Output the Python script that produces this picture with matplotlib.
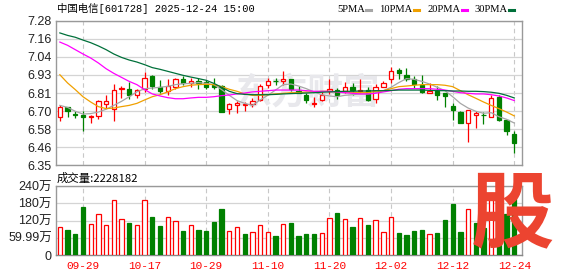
import numpy as np
import matplotlib
matplotlib.use('Agg')
import matplotlib.pyplot as plt
from matplotlib.lines import Line2D

# daily candles 2025-09-24 .. 2025-12-24 (60 sessions)
opens = [6.662, 6.722, 6.679, 6.675, 6.658, 6.667, 6.743, 6.714, 6.839, 6.843,
         6.800, 6.843, 6.923, 6.854, 6.830, 6.856, 6.903, 6.877, 6.895, 6.886,
         6.869, 6.860, 6.710, 6.735, 6.735, 6.744, 6.770, 6.865, 6.895, 6.895,
         6.903, 6.830, 6.804, 6.744, 6.770, 6.830, 6.834, 6.826, 6.852, 6.830,
         6.834, 6.774, 6.856, 6.908, 6.964, 6.929, 6.903, 6.869, 6.817, 6.826,
         6.813, 6.731, 6.692, 6.623, 6.675, 6.675, 6.662, 6.791, 6.641, 6.550]
closes = [6.722, 6.697, 6.671, 6.662, 6.667, 6.761, 6.761, 6.834, 6.847, 6.800,
          6.834, 6.912, 6.858, 6.826, 6.858, 6.903, 6.877, 6.895, 6.882, 6.856,
          6.852, 6.692, 6.744, 6.748, 6.744, 6.761, 6.860, 6.895, 6.890, 6.903,
          6.843, 6.817, 6.770, 6.748, 6.800, 6.839, 6.800, 6.852, 6.834, 6.834,
          6.770, 6.856, 6.882, 6.959, 6.946, 6.903, 6.873, 6.822, 6.826, 6.804,
          6.796, 6.705, 6.623, 6.705, 6.684, 6.671, 6.783, 6.641, 6.567, 6.494]
highs = [6.735, 6.722, 6.697, 6.701, 6.675, 6.770, 6.804, 6.873, 6.860, 6.886,
         6.843, 6.951, 6.930, 6.899, 6.903, 6.912, 6.925, 6.912, 6.912, 6.899,
         6.912, 6.869, 6.748, 6.765, 6.757, 6.783, 6.873, 6.912, 6.912, 6.955,
         6.903, 6.858, 6.813, 6.791, 6.822, 6.903, 6.847, 6.886, 6.877, 6.903,
         6.856, 6.873, 6.895, 6.981, 6.976, 6.976, 6.925, 6.929, 6.882, 6.860,
         6.813, 6.748, 6.697, 6.705, 6.701, 6.692, 6.800, 6.804, 6.641, 6.567]
lows = [6.636, 6.658, 6.654, 6.572, 6.619, 6.645, 6.718, 6.636, 6.783, 6.774,
        6.783, 6.822, 6.843, 6.817, 6.804, 6.843, 6.869, 6.852, 6.843, 6.839,
        6.843, 6.692, 6.679, 6.688, 6.697, 6.727, 6.761, 6.847, 6.865, 6.869,
        6.830, 6.813, 6.748, 6.727, 6.761, 6.809, 6.774, 6.813, 6.800, 6.813,
        6.766, 6.753, 6.852, 6.877, 6.908, 6.890, 6.847, 6.813, 6.817, 6.770,
        6.727, 6.641, 6.623, 6.499, 6.589, 6.615, 6.662, 6.636, 6.546, 6.430]

# moving averages as shown on the chart
ma5 = [6.735, 6.722, 6.697, 6.679, 6.682, 6.692, 6.710, 6.735, 6.761, 6.791,
       6.822, 6.843, 6.847, 6.852, 6.858, 6.869, 6.875, 6.877, 6.882, 6.877,
       6.869, 6.837, 6.800, 6.766, 6.748, 6.735, 6.770, 6.800, 6.834, 6.869,
       6.873, 6.860, 6.843, 6.822, 6.804, 6.796, 6.791, 6.800, 6.804, 6.809,
       6.809, 6.817, 6.830, 6.852, 6.882, 6.908, 6.903, 6.890, 6.873, 6.852,
       6.830, 6.791, 6.748, 6.718, 6.697, 6.684, 6.688, 6.662, 6.645, 6.621]
ma10 = [6.933, 6.880, 6.837, 6.791, 6.757, 6.727, 6.714, 6.718, 6.727, 6.735,
        6.748, 6.770, 6.791, 6.804, 6.822, 6.843, 6.856, 6.865, 6.869, 6.871,
        6.869, 6.856, 6.839, 6.826, 6.809, 6.800, 6.800, 6.804, 6.809, 6.813,
        6.817, 6.817, 6.822, 6.822, 6.826, 6.826, 6.822, 6.822, 6.817, 6.817,
        6.817, 6.826, 6.830, 6.843, 6.856, 6.860, 6.865, 6.869, 6.869, 6.869,
        6.865, 6.856, 6.830, 6.804, 6.781, 6.757, 6.735, 6.714, 6.692, 6.667]
ma20 = [7.144, 7.123, 7.095, 7.067, 7.041, 7.009, 6.972, 6.942, 6.916, 6.890,
        6.869, 6.837, 6.809, 6.796, 6.785, 6.778, 6.778, 6.783, 6.787, 6.787,
        6.791, 6.798, 6.802, 6.809, 6.815, 6.822, 6.826, 6.830, 6.834, 6.834,
        6.834, 6.834, 6.830, 6.826, 6.826, 6.826, 6.822, 6.817, 6.813, 6.809,
        6.809, 6.813, 6.822, 6.830, 6.839, 6.843, 6.843, 6.843, 6.843, 6.839,
        6.834, 6.826, 6.817, 6.813, 6.809, 6.809, 6.804, 6.796, 6.783, 6.766]
ma30 = [7.203, 7.187, 7.175, 7.157, 7.140, 7.119, 7.095, 7.067, 7.045, 7.028,
        7.015, 6.998, 6.979, 6.968, 6.955, 6.942, 6.929, 6.918, 6.908, 6.897,
        6.877, 6.852, 6.826, 6.811, 6.806, 6.804, 6.804, 6.804, 6.806, 6.809,
        6.811, 6.813, 6.815, 6.817, 6.820, 6.822, 6.824, 6.826, 6.826, 6.828,
        6.828, 6.830, 6.830, 6.832, 6.834, 6.834, 6.834, 6.834, 6.832, 6.830,
        6.830, 6.828, 6.828, 6.826, 6.826, 6.824, 6.820, 6.813, 6.800, 6.783]

# volume in units of 10k shares
volumes = [97, 88, 74, 168, 108, 144, 104, 192, 125, 112,
           104, 192, 133, 102, 132, 118, 84, 104, 88, 84,
           116, 161, 83, 97, 74, 80, 104, 80, 67, 108,
           112, 67, 74, 74, 76, 129, 147, 125, 98, 129,
           105, 122, 80, 132, 77, 70, 84, 88, 73, 77,
           123, 179, 81, 160, 110, 95, 217, 170, 143, 222.8182]
vol_dir = "RGGGRRRRRG" "RRGGRRGRGG" "GGRRGRRRGR" "GGGGRRGRGR" "GRRRGGGGRG" "GGGRGGRGGG"

date_labels = ['09-29', '10-17', '10-29', '11-10', '11-20', '12-02', '12-12', '12-24']
date_pos = [3, 11, 19, 27, 35, 43, 51, 59]
price_ticks = ['6.35', '6.46', '6.58', '6.70', '6.81', '6.93', '7.04', '7.16', '7.28']
vol_ticks = [0, 60, 120, 180, 240]
vol_tick_labels = ['0', '59.99万', '120万', '180万', '240万']

RED = '#ff0000'
GREEN = '#008000'
GRID = '#d4d4d4'
FRAME = '#999999'

W, H = 578, 276
fig = plt.figure(figsize=(W / 100, H / 100), dpi=100)
fig.patch.set_facecolor('white')


def fx(x):
    return x / W


def fy(y):
    return 1 - y / H


ax = fig.add_axes([fx(56), fy(165), fx(522) - fx(56), fy(21) - fy(165)])
axv = fig.add_axes([fx(56), fy(255), fx(522) - fx(56), fy(186) - fy(255)])
for a in (ax, axv):
    a.set_facecolor('none')
    a.set_xlim(-0.5, 60.0)
    for s in a.spines.values():
        s.set_color(FRAME)
        s.set_linewidth(1.0)
    a.tick_params(length=0)
    a.set_axisbelow(True)
    for p in date_pos:
        a.axvline(p, color='#c8c8c8', lw=0.8, dashes=(4, 3), zorder=0.5)

# faint site watermark behind the candles
ax.text(fx(308), fy(93), '东方财富', transform=fig.transFigure, fontsize=26,
        family=['Noto Sans CJK SC'], weight='bold', color='#e8e8ec',
        ha='center', va='center', zorder=0.8)

# price panel
idx = np.arange(len(closes))
o = np.array(opens)
c = np.array(closes)
up = c >= o
cols = [RED if u else GREEN for u in up]
faces = ['white' if u else GREEN for u in up]
ax.vlines(idx, lows, highs, colors=cols, lw=0.9, zorder=2)
ax.bar(idx, np.maximum(np.abs(c - o), 0.002), bottom=np.minimum(o, c), width=0.56,
       color=faces, edgecolor=cols, linewidth=0.9, zorder=3)
ax.plot(idx, ma5, color='#a6a6a6', lw=0.9, zorder=4)
ax.plot(idx, ma10, color='#f0a000', lw=0.9, zorder=4)
ax.plot(idx, ma20, color='#ff00ff', lw=0.9, zorder=4)
ax.plot(idx, ma30, color='#00703a', lw=0.9, zorder=4)

ax.set_ylim(6.35, 7.28)
ax.set_yticks(np.linspace(6.35, 7.28, 9))
ax.set_yticklabels(price_ticks, fontsize=9, family='Liberation Sans', color='#222222')
ax.tick_params(axis='y', pad=3)
ax.set_xticks([])
ax.yaxis.grid(True, color=GRID, lw=0.9)

# volume panel
vcols = [RED if d == 'R' else GREEN for d in vol_dir]
vfaces = ['white' if d == 'R' else GREEN for d in vol_dir]
axv.bar(idx, volumes, width=0.56, color=vfaces, edgecolor=vcols, linewidth=0.9, zorder=3)
axv.set_ylim(0, 240)
axv.set_yticks(vol_ticks)
axv.set_yticklabels(vol_tick_labels, fontsize=9, family=['Liberation Sans', 'Noto Sans CJK SC'],
                    color='#222222')
axv.tick_params(axis='y', pad=3)
axv.yaxis.grid(True, color=GRID, lw=0.9)
axv.spines['bottom'].set_color('#888888')
axv.set_xticks(date_pos)
axv.set_xticklabels(date_labels, fontsize=8, family='Liberation Mono', color=RED)
axv.tick_params(axis='x', pad=4)

# texts
fig.text(fx(57), fy(9), '中国电信[601728] 2025-12-24 15:00', fontsize=7.5,
         family=['Liberation Mono', 'Noto Sans CJK SC'], va='center', ha='left')
fig.text(fx(57), fy(178), '成交量:2228182', fontsize=8.2,
         family=['Noto Sans CJK SC', 'DejaVu Sans'], va='center', ha='left')

# legend: label followed by a short coloured dash
legend_items = [('5PMA', '#a6a6a6'), ('10PMA', '#f0a000'),
                ('20PMA', '#ff00ff'), ('30PMA', '#00703a')]
renderer = fig.canvas.get_renderer()
x = 337.0
for label, col in legend_items:
    t = fig.text(fx(x), fy(9), label, fontsize=7.6, family='Liberation Serif',
                 va='center', ha='left')
    wpx = t.get_window_extent(renderer).width
    xe = x + wpx + 1.5
    fig.add_artist(Line2D([fx(xe), fx(xe + 5)], [fy(9.5), fy(9.5)], color=col, lw=2.2))
    x = xe + 5 + 8

# big red "股" watermark in the corner
fig.text(fx(512), fy(216), '股', fontsize=60, family=['Noto Sans CJK SC'],
         weight='heavy', color='#ec4430', ha='center', va='center', zorder=10)

fig.savefig('out.png', dpi=100, facecolor='white')
